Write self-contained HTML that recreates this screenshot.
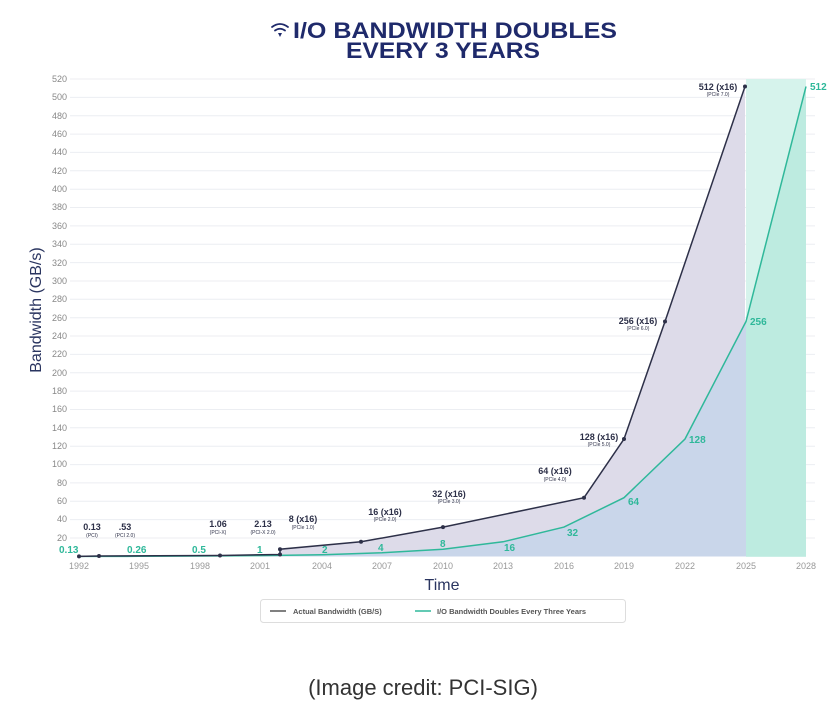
<!DOCTYPE html>
<html><head><meta charset="utf-8"><style>
body{margin:0;background:#fff;width:837px;height:720px;overflow:hidden;font-family:"Liberation Sans",sans-serif}
</style></head><body>
<svg width="837" height="720" viewBox="0 0 837 720" xmlns="http://www.w3.org/2000/svg" font-family="Liberation Sans, sans-serif">
<g font-weight="bold" fill="#1f2a6b" font-size="22">
<text x="293" y="38" textLength="324" lengthAdjust="spacingAndGlyphs">I/O BANDWIDTH DOUBLES</text>
<text x="346" y="58" textLength="194" lengthAdjust="spacingAndGlyphs">EVERY 3 YEARS</text>
</g>
<g fill="none" stroke="#1f2a6b" stroke-width="1.8" stroke-linecap="round">
<path d="M272 27 Q280 21 288 27"/><path d="M275 30.5 Q280 27 285 30.5"/>
</g>
<path d="M278 33 L282 33 L280 37 Z" fill="#1f2a6b"/>
<!-- grid -->
<g stroke="#eceef2" stroke-width="1">
<line x1="70" x2="815" y1="79" y2="79"/><line x1="70" x2="815" y1="97.4" y2="97.4"/><line x1="70" x2="815" y1="115.7" y2="115.7"/><line x1="70" x2="815" y1="134.1" y2="134.1"/><line x1="70" x2="815" y1="152.4" y2="152.4"/><line x1="70" x2="815" y1="170.8" y2="170.8"/><line x1="70" x2="815" y1="189.2" y2="189.2"/><line x1="70" x2="815" y1="207.5" y2="207.5"/><line x1="70" x2="815" y1="225.9" y2="225.9"/><line x1="70" x2="815" y1="244.2" y2="244.2"/><line x1="70" x2="815" y1="262.6" y2="262.6"/><line x1="70" x2="815" y1="281" y2="281"/><line x1="70" x2="815" y1="299.3" y2="299.3"/><line x1="70" x2="815" y1="317.7" y2="317.7"/><line x1="70" x2="815" y1="336" y2="336"/><line x1="70" x2="815" y1="354.4" y2="354.4"/><line x1="70" x2="815" y1="372.8" y2="372.8"/><line x1="70" x2="815" y1="391.1" y2="391.1"/><line x1="70" x2="815" y1="409.5" y2="409.5"/><line x1="70" x2="815" y1="427.8" y2="427.8"/><line x1="70" x2="815" y1="446.2" y2="446.2"/><line x1="70" x2="815" y1="464.6" y2="464.6"/><line x1="70" x2="815" y1="482.9" y2="482.9"/><line x1="70" x2="815" y1="501.3" y2="501.3"/><line x1="70" x2="815" y1="519.6" y2="519.6"/><line x1="70" x2="815" y1="538" y2="538"/>
</g>
<g font-size="9" fill="#888" text-anchor="end">
<text x="67" y="82">520</text><text x="67" y="100">500</text><text x="67" y="119">480</text><text x="67" y="137">460</text><text x="67" y="155">440</text><text x="67" y="174">420</text><text x="67" y="192">400</text><text x="67" y="210">380</text><text x="67" y="229">360</text><text x="67" y="247">340</text><text x="67" y="266">320</text><text x="67" y="284">300</text><text x="67" y="302">280</text><text x="67" y="321">260</text><text x="67" y="339">240</text><text x="67" y="357">220</text><text x="67" y="376">200</text><text x="67" y="394">180</text><text x="67" y="412">160</text><text x="67" y="431">140</text><text x="67" y="449">120</text><text x="67" y="467">100</text><text x="67" y="486">80</text><text x="67" y="504">60</text><text x="67" y="522">40</text><text x="67" y="541">20</text>
</g>
<!-- fills -->
<rect x="746" y="79" width="60" height="478" fill="#d6f3ec"/>
<polygon points="280,549.2 361,541.8 443,527.1 584,497.7 624,439 665,321.5 745,86.5 745,556.5 280,556.5" fill="#dddbe9"/>
<polygon points="260,555.6 322,554.7 382,552.8 443,549.2 503,541.8 564,527.1 624,497.7 685,439 746,321.5 746,556.5 260,556.5" fill="#c9d6ea"/>
<polygon points="746,321.5 806,86.5 806,556.5 746,556.5" fill="#bdebe0"/>
<!-- lines -->
<polyline points="79,556.4 139,556.3 200,556 260,555.6 322,554.7 382,552.8 443,549.2 503,541.8 564,527.1 624,497.7 685,439 746,321.5 806,86.5" fill="none" stroke="#2fb89a" stroke-width="1.5"/>
<polyline points="79,556.4 99,556 220,555.5 280,554.5 280,549.2 361,541.8 443,527.1 584,497.7 624,439 665,321.5 745,86.5" fill="none" stroke="#2d3048" stroke-width="1.5"/>
<g fill="#2d3048"><circle cx="79" cy="556.4" r="2"/><circle cx="99" cy="556" r="2"/><circle cx="220" cy="555.5" r="2"/><circle cx="280" cy="554.5" r="2"/><circle cx="280" cy="549.2" r="2"/><circle cx="361" cy="541.8" r="2"/><circle cx="443" cy="527.1" r="2"/><circle cx="584" cy="497.7" r="2"/><circle cx="624" cy="439" r="2"/><circle cx="665" cy="321.5" r="2"/><circle cx="745" cy="86.5" r="2"/></g>
<g fill="#2fb89a" font-size="10" font-weight="bold">
<text x="59" y="553">0.13</text><text x="127" y="553">0.26</text><text x="192" y="553">0.5</text><text x="257" y="553">1</text><text x="322" y="553">2</text><text x="378" y="551">4</text><text x="440" y="547">8</text><text x="504" y="551">16</text><text x="567" y="536">32</text><text x="628" y="505">64</text><text x="689" y="443">128</text><text x="750" y="325">256</text><text x="810" y="90">512</text>
</g>
<g fill="#2d3048" font-size="9" font-weight="bold" text-anchor="middle">
<text x="92" y="530">0.13</text><text x="125" y="530">.53</text><text x="218" y="527">1.06</text><text x="263" y="527">2.13</text><text x="303" y="522">8 (x16)</text><text x="385" y="515">16 (x16)</text><text x="449" y="497">32 (x16)</text><text x="555" y="474">64 (x16)</text><text x="599" y="440">128 (x16)</text><text x="638" y="324">256 (x16)</text><text x="718" y="90">512 (x16)</text>
</g>
<g fill="#2d3048" font-size="5" text-anchor="middle">
<text x="92" y="537">(PCI)</text><text x="125" y="537">(PCI 2.0)</text><text x="218" y="534">(PCI-X)</text><text x="263" y="534">(PCI-X 2.0)</text><text x="303" y="529">(PCIe 1.0)</text><text x="385" y="521">(PCIe 2.0)</text><text x="449" y="503">(PCIe 3.0)</text><text x="555" y="481">(PCIe 4.0)</text><text x="599" y="446">(PCIe 5.0)</text><text x="638" y="330">(PCIe 6.0)</text><text x="718" y="96">(PCIe 7.0)</text>
</g>
<g font-size="9" fill="#999" text-anchor="middle">
<text x="79" y="569">1992</text><text x="139" y="569">1995</text><text x="200" y="569">1998</text><text x="260" y="569">2001</text><text x="322" y="569">2004</text><text x="382" y="569">2007</text><text x="443" y="569">2010</text><text x="503" y="569">2013</text><text x="564" y="569">2016</text><text x="624" y="569">2019</text><text x="685" y="569">2022</text><text x="746" y="569">2025</text><text x="806" y="569">2028</text>
</g>
<text x="442" y="590" font-size="16" fill="#2a3560" text-anchor="middle">Time</text>
<text transform="translate(41,310) rotate(-90)" font-size="16" fill="#2a3560" text-anchor="middle">Bandwidth (GB/s)</text>
<rect x="260.5" y="599.5" width="365" height="23" rx="3" fill="#fff" stroke="#ddd"/>
<line x1="270" x2="286" y1="611" y2="611" stroke="#555" stroke-width="1.5"/>
<text x="293" y="614" font-size="7.5" font-weight="bold" fill="#555">Actual Bandwidth (GB/S)</text>
<line x1="415" x2="431" y1="611" y2="611" stroke="#2fb89a" stroke-width="1.5"/>
<text x="437" y="614" font-size="7.5" font-weight="bold" fill="#555">I/O Bandwidth Doubles Every Three Years</text>
<text x="423" y="695" font-size="22" fill="#333" text-anchor="middle">(Image credit: PCI-SIG)</text>
</svg>
</body></html>
